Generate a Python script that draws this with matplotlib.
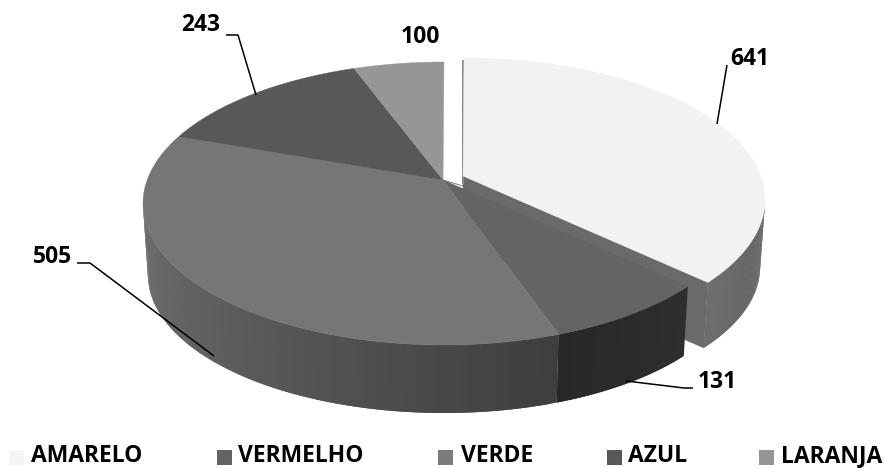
import matplotlib
matplotlib.use("Agg")
import matplotlib.pyplot as plt
import numpy as np

categories = ["AMARELO", "VERMELHO", "VERDE", "AZUL", "LARANJA"]
values = [641, 131, 505, 243, 100]
top_colors = ["#f2f2f2", "#646464", "#767676", "#585858", "#969696"]
legend_colors = ["#f5f5f5", "#636363", "#7b7b7b", "#585858", "#969696"]

# pie geometry in image pixels
CX, CY, RX, RY = 444, 203.5, 301, 141.5       # top rim
LOW_CY, LOW_RX, LOW_RY = 275, 296, 138        # bottom rim
TIP = (443, 180)
EXPLODE = (20, -4)
FONT = "Open Sans"


def rim_angle(theta):
    # screen ray from the tip for a pie angle, then where it meets the rim
    s, c = np.sin(theta), np.cos(theta)
    if c > 0:
        dx, dy = 1.44 * s - 0.21 * c, -c
    else:
        dx, dy = 2.5 * s - 0.378 * c, -c
    px, py = (TIP[0] - CX) / RX, (TIP[1] - CY) / RY
    vx, vy = dx * 100 / RX, dy * 100 / RY
    a = vx * vx + vy * vy
    b = 2 * (px * vx + py * vy)
    k = (-b + np.sqrt(b * b - 4 * a * (px * px + py * py - 1))) / (2 * a)
    return np.arctan2(px + k * vx, -(py + k * vy)) % (2 * np.pi)


def top_rim(t):
    return CX + RX * np.sin(t), CY - RY * np.cos(t)


def low_rim(t):
    return CX + LOW_RX * np.sin(t), LOW_CY - LOW_RY * np.cos(t)


def shade(c1, c2, f):
    g = c1 + (c2 - c1) * f
    return (g / 255, g / 255, g / 255)


def draw_wall(ax, t0, t1, g0, g1, off=(0, 0), low_dy=0):
    # quads overlap by one step so no seams show between them
    steps = np.linspace(t0, t1, 90)
    for i in range(len(steps) - 1):
        part = steps[i:i + 3]
        xa, ya = top_rim(part)
        xb, yb = low_rim(part)
        col = shade(g0, g1, i / (len(steps) - 2))
        ax.fill(np.r_[xa, xb[::-1]] + off[0],
                np.r_[ya, yb[::-1] + low_dy] + off[1], color=col, lw=0)


def draw_top(ax, t0, t1, color, tip=TIP, off=(0, 0)):
    steps = np.linspace(t0, t1, 120)
    x, y = top_rim(steps)
    ax.fill(np.r_[tip[0], x + off[0]], np.r_[tip[1], y + off[1]], color=color, lw=0.3)


fig = plt.figure(figsize=(8.84, 4.68), dpi=100)
ax = fig.add_axes([0, 0, 1, 1])
ax.set_xlim(0, 884)
ax.set_ylim(468, 0)
ax.axis("off")

fracs = np.cumsum([0] + values) / sum(values)
edges = [rim_angle(f * 2 * np.pi) if 0 < f < 1 else f * 2 * np.pi for f in fracs]
edges[0] = 0.0
edges[-1] = 2 * np.pi

# exploded slice first, the rest of the pie sits over it
tip_a = (TIP[0] + EXPLODE[0], TIP[1] + EXPLODE[1])
xe, ye = top_rim(edges[1])
xl, yl = low_rim(edges[1])
ax.fill([tip_a[0], xe + EXPLODE[0], xl + EXPLODE[0], tip_a[0]],
        [tip_a[1], ye + EXPLODE[1], yl + EXPLODE[1] - 4, tip_a[1] + 68],
        color="#6a6a6a", lw=0.3)
ax.fill([tip_a[0] - 1, tip_a[0] + 1, tip_a[0] + 1, tip_a[0] - 1],
        [60, 60, tip_a[1] + 8, tip_a[1] + 8], color="#8a8a8a", lw=0)
draw_wall(ax, np.pi / 2, edges[1], 0x60, 0x6e, EXPLODE, low_dy=-4)
draw_top(ax, edges[0], edges[1], top_colors[0], tip_a, EXPLODE)

# front walls of the other slices
draw_wall(ax, edges[1], edges[2], 0x2e, 0x28)
draw_wall(ax, edges[2], 1.5 * np.pi, 0x3e, 0x70)

for i in range(1, len(values)):
    draw_top(ax, edges[i], edges[i + 1], top_colors[i])

# white gap of the exploded slice, its lower edge runs to the next slice
ax.plot([TIP[0], TIP[0] + EXPLODE[0]], [TIP[1], TIP[1] + 6], color="#6a6a6a", lw=0.6)

leaders = [
    ([717, 727], [124, 65]),
    ([256, 238, 226], [95, 35, 35]),
    ([214, 90, 77], [356, 263, 263]),
    ([626, 684, 693], [381, 388, 388]),
]
for lx, ly in leaders:
    ax.plot(lx, ly, color="black", lw=1.1, solid_capstyle="butt")

label_pos = [(750, 59), (717, 382), (53, 257), (201, 25), (420, 37)]
for v, (lx, ly) in zip(values, label_pos):
    ax.text(lx, ly, str(v), fontsize=16.5, family=FONT, weight="bold",
            ha="center", va="center", color="black")

swatch_x = [9, 217, 438, 607, 759]
text_x = [31, 238, 461, 628, 781]
for name, col, sx, tx in zip(categories, legend_colors, swatch_x, text_x):
    ax.fill([sx, sx + 15, sx + 15, sx], [450, 450, 465, 465], color=col, lw=0)
    ax.text(tx, 456, name, fontsize=16.5, family=FONT, weight="bold",
            ha="left", va="center", color="black")

fig.savefig("out.png", dpi=100)
